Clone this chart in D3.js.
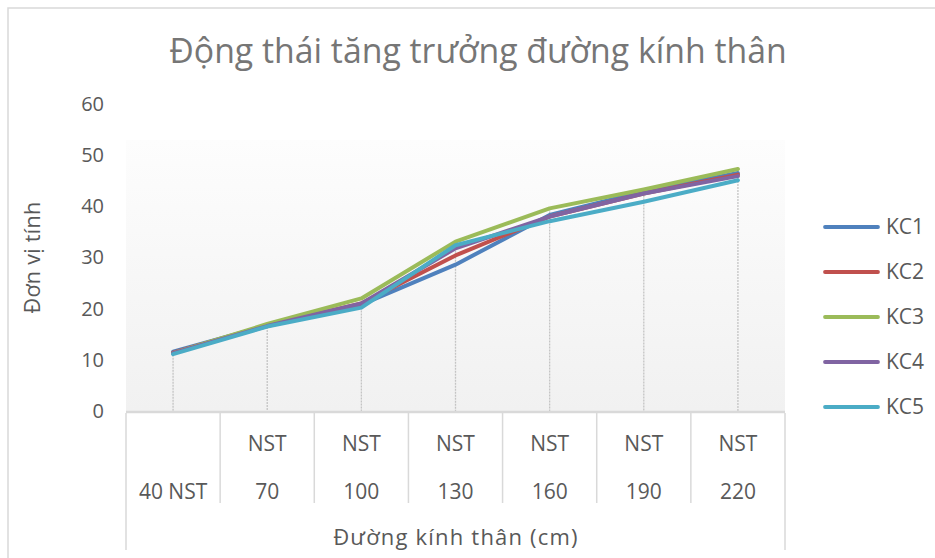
<!DOCTYPE html>
<html>
<head>
<meta charset="utf-8">
<script src="https://cdn.jsdelivr.net/npm/d3@7"></script>
<style>
  body { margin: 0; background: #fff; }
  svg { display: block; font-family: "Open Sans", sans-serif; }
</style>
</head>
<body>
<div id="chart"></div>
<script>
// values
const categories = [["40 NST"], ["NST", "70"], ["NST", "100"], ["NST", "130"], ["NST", "160"], ["NST", "190"], ["NST", "220"]];
const seriesNames = ["KC1", "KC2", "KC3", "KC4", "KC5"];
const kc1 = [11.6, 16.7, 20.8, 28.6, 38.3, 42.9, 46.5];
const kc2 = [11.4, 16.7, 21.0, 30.4, 38.0, 42.5, 46.2];
const kc3 = [11.3, 17.0, 22.0, 33.1, 39.6, 43.3, 47.3];
const kc4 = [11.3, 16.6, 21.0, 31.8, 38.0, 42.5, 45.9];
const kc5 = [11.1, 16.5, 20.2, 32.4, 37.1, 40.9, 45.1];
const yTicks = [0, 10, 20, 30, 40, 50, 60];

const seriesValues = [kc1, kc2, kc3, kc4, kc5];
const colors = ["#4F81BD", "#C0504D", "#9BBB59", "#8064A2", "#4BACC6"];

const width = 935, height = 558;
const textColor = "#595959";

const svg = d3.select("#chart")
    .append("svg")
    .attr("width", width)
    .attr("height", height);

// chart frame
svg.append("rect")
    .attr("x", 8).attr("y", 8)
    .attr("width", 1000).attr("height", 1000)
    .attr("fill", "white")
    .attr("stroke", "#d9d9d9")
    .attr("stroke-width", 1.5);

const x = d3.scaleBand()
    .domain(categories.map((d, i) => i))
    .range([126, 785])
    .paddingInner(0)
    .paddingOuter(0);

const y = d3.scaleLinear()
    .domain([0, 60])
    .range([411, 104]);

// plot background gradient
const grad = svg.append("defs").append("linearGradient")
    .attr("id", "bg")
    .attr("x1", 0).attr("y1", 0).attr("x2", 0).attr("y2", 1);
grad.append("stop").attr("offset", "0%").attr("stop-color", "#fdfdfd");
grad.append("stop").attr("offset", "100%").attr("stop-color", "#f1f1f1");

svg.append("rect")
    .attr("x", x.range()[0])
    .attr("y", y(53))
    .attr("width", x.range()[1] - x.range()[0])
    .attr("height", y(0) - y(53))
    .attr("fill", "url(#bg)");

// title
svg.append("text")
    .attr("x", 478)
    .attr("y", 63)
    .attr("text-anchor", "middle")
    .attr("font-size", 33.8)
    .attr("fill", "#767676")
    .text("Động thái tăng trưởng đường kính thân");

// y axis
const yAxis = svg.append("g")
    .attr("transform", `translate(${x.range()[0]},0)`)
    .call(d3.axisLeft(y).tickValues(yTicks).tickSize(0).tickPadding(22));
yAxis.select(".domain").remove();
yAxis.selectAll("text")
    .attr("font-family", "Open Sans")
    .attr("font-size", 20)
    .attr("fill", textColor);

svg.append("text")
    .attr("transform", `translate(40,${y(30)}) rotate(-90)`)
    .attr("text-anchor", "middle")
    .attr("font-size", 21.5)
    .attr("letter-spacing", 0.3)
    .attr("fill", textColor)
    .text("Đơn vị tính");

// drop lines
const maxAt = categories.map((c, i) => d3.max(seriesValues, s => s[i]));
svg.append("g")
    .selectAll("line")
    .data(maxAt)
    .enter()
    .append("line")
    .attr("x1", (d, i) => x(i) + x.bandwidth() / 2)
    .attr("x2", (d, i) => x(i) + x.bandwidth() / 2)
    .attr("y1", d => y(d))
    .attr("y2", y(0))
    .attr("stroke", "#c4c4c4")
    .attr("stroke-width", 1.3)
    .attr("stroke-dasharray", "2,1");

// category axis table
const axisG = svg.append("g").attr("stroke", "#d9d9d9").attr("stroke-width", 1.5);
axisG.append("line")
    .attr("x1", x.range()[0]).attr("x2", x.range()[1])
    .attr("y1", y(0) + 1).attr("y2", y(0) + 1)
    .attr("stroke-width", 2.5);
axisG.selectAll(".sep")
    .data(d3.range(1, categories.length))
    .enter()
    .append("line")
    .attr("x1", d => x(d)).attr("x2", d => x(d))
    .attr("y1", y(0) + 2).attr("y2", 503);
axisG.selectAll(".edge")
    .data(x.range())
    .enter()
    .append("line")
    .attr("x1", d => d).attr("x2", d => d)
    .attr("y1", y(0) + 2).attr("y2", 550);

const catLabel = svg.append("g")
    .selectAll("text")
    .data(categories)
    .enter()
    .append("text")
    .attr("text-anchor", "middle")
    .attr("font-size", 21)
    .attr("fill", textColor);
catLabel.selectAll("tspan")
    .data((d, i) => d.map((t, j) => ({t, i, j, n: d.length})))
    .enter()
    .append("tspan")
    .attr("x", d => x(d.i) + x.bandwidth() / 2)
    .attr("y", d => 499 - (d.n - 1 - d.j) * 48)
    .text(d => d.t);

svg.append("text")
    .attr("x", 456)
    .attr("y", 545)
    .attr("text-anchor", "middle")
    .attr("font-size", 22)
    .attr("letter-spacing", 1.2)
    .attr("fill", textColor)
    .text("Đường kính thân (cm)");

// series lines
const line = d3.line()
    .x((d, i) => x(i) + x.bandwidth() / 2)
    .y(d => y(d));

svg.append("g")
    .selectAll("path")
    .data(seriesValues)
    .enter()
    .append("path")
    .attr("d", line)
    .attr("fill", "none")
    .attr("stroke", (d, i) => colors[i])
    .attr("stroke-width", 4)
    .attr("stroke-linejoin", "round")
    .attr("stroke-linecap", "round");

// legend
const legend = svg.append("g")
    .selectAll("g")
    .data(seriesNames)
    .enter()
    .append("g")
    .attr("transform", (d, i) => `translate(0,${227 + i * 45})`);
legend.append("line")
    .attr("x1", 825).attr("x2", 878)
    .attr("stroke", (d, i) => colors[i])
    .attr("stroke-width", 3.8)
    .attr("stroke-linecap", "round");
legend.append("text")
    .attr("x", 886)
    .attr("dy", "0.35em")
    .attr("font-size", 21)
    .attr("fill", textColor)
    .text(d => d);
</script>
</body>
</html>
